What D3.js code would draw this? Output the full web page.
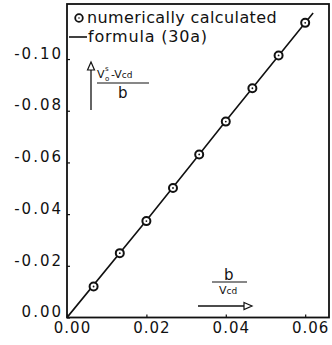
<!DOCTYPE html>
<html>
<head>
<meta charset="utf-8">
<script src="https://cdn.jsdelivr.net/npm/d3@7"></script>
<style>
  body { margin: 0; background: #fff; }
  text { font-family: "DejaVu Sans", sans-serif; fill: #111; }
</style>
</head>
<body>
<div id="chart"></div>
<script>
// numerically calculated points
const xCalc = [0.0067, 0.0133, 0.0200, 0.0267, 0.0333, 0.0400, 0.0467, 0.0533, 0.0600];
const yCalc = [0.0120, 0.0249, 0.0373, 0.0501, 0.0631, 0.0758, 0.0887, 0.1014, 0.1140];
// formula (30a) curve
const xFormula = [0, 0.02, 0.04, 0.062];
const yFormula = [0, 0.0375, 0.0760, 0.1178];
const xTicks = [0, 0.02, 0.04, 0.06];
const yTicks = [0, 0.02, 0.04, 0.06, 0.08, 0.10];
const xTickLabels = ["0.00", "0.02", "0.04", "0.06"];
const yTickLabels = ["0.00", "-0.02", "-0.04", "-0.06", "-0.08", "-0.10"];

let margin = { top: 4, left: 67, right: 3, bottom: 27.5 },
  width = 332,
  height = 345,
  innerW = width - margin.left - margin.right,
  innerH = height - margin.top - margin.bottom;

const svg = d3.select("#chart")
  .append("svg")
    .attr("width", width)
    .attr("height", height);

const g = svg.append("g")
  .attr("transform", "translate(" + margin.left + "," + margin.top + ")");

const x = d3.scaleLinear().domain([0, 0.066]).range([0, innerW]);
const y = d3.scaleLinear().domain([0, 0.1213]).range([innerH, 0]);

// frame
g.append("rect")
  .attr("width", innerW).attr("height", innerH)
  .attr("fill", "none").attr("stroke", "#111").attr("stroke-width", 1.8);

// X axis (inner ticks)
const xAxis = g.append("g")
  .attr("transform", "translate(0," + innerH + ")")
  .call(d3.axisBottom(x).tickValues(xTicks).tickSize(-3)
    .tickFormat((d, i) => xTickLabels[i]));
xAxis.select(".domain").remove();
xAxis.selectAll("line").attr("stroke", "#111").attr("stroke-width", 1.2);
xAxis.selectAll("text")
  .attr("dy", 0).attr("y", 15).attr("dx", 5)
  .style("font-size", "15px").style("letter-spacing", "1px");

// Y axis (inner ticks)
const yAxis = g.append("g")
  .call(d3.axisLeft(y).tickValues(yTicks).tickSize(-3)
    .tickFormat((d, i) => yTickLabels[i]));
yAxis.select(".domain").remove();
yAxis.selectAll("line").attr("stroke", "#111").attr("stroke-width", 1.2);
yAxis.selectAll("text")
  .attr("x", -4).attr("dy", "-0.05em")
  .style("font-size", "15px").style("letter-spacing", "2px");

// formula line
const formula = xFormula.map((v, i) => [v, yFormula[i]]);
g.append("path")
  .datum(formula)
  .attr("fill", "none").attr("stroke", "#111").attr("stroke-width", 1.6)
  .attr("d", d3.line().x(d => x(d[0])).y(d => y(d[1])).curve(d3.curveMonotoneX));

// calculated markers
const pts = xCalc.map((v, i) => [v, yCalc[i]]);
const mk = g.selectAll(".pt").data(pts).enter().append("g")
  .attr("transform", d => "translate(" + x(d[0]) + "," + y(d[1]) + ")");
mk.append("circle").attr("r", 4).attr("fill", "#fff").attr("stroke", "#111").attr("stroke-width", 2);
mk.append("circle").attr("r", 0.9).attr("fill", "#111");

// legend
const leg = svg.append("g");
leg.append("circle").attr("cx", 79).attr("cy", 18).attr("r", 3.8)
  .attr("fill", "#fff").attr("stroke", "#111").attr("stroke-width", 1.8);
leg.append("circle").attr("cx", 79).attr("cy", 18).attr("r", 0.8).attr("fill", "#111");
leg.append("text").attr("x", 87).attr("y", 23).style("font-size", "16px").style("letter-spacing", "0.4px").text("numerically calculated");
leg.append("line").attr("x1", 69).attr("x2", 87).attr("y1", 37).attr("y2", 37)
  .attr("stroke", "#111").attr("stroke-width", 1.6);
leg.append("text").attr("x", 88).attr("y", 42).style("font-size", "16px").style("letter-spacing", "0.8px").text("formula (30a)");

// y label: arrow + fraction
const yl = svg.append("g");
yl.append("line").attr("x1", 91).attr("x2", 91).attr("y1", 66).attr("y2", 110)
  .attr("stroke", "#111").attr("stroke-width", 1.3);
yl.append("path").attr("d", "M87.5,70 L91,62 L94.5,70 Z")
  .attr("fill", "#fff").attr("stroke", "#111").attr("stroke-width", 1.2);
yl.append("text").attr("x", 97).attr("y", 78).style("font-size", "11px").text("V");
yl.append("text").attr("x", 105).attr("y", 71).style("font-size", "7px").text("s");
yl.append("text").attr("x", 105).attr("y", 81).style("font-size", "7px").text("o");
const num = yl.append("text").attr("x", 111).attr("y", 78).style("font-size", "11px");
num.append("tspan").text("-V");
num.append("tspan").style("font-size", "9px").text("cd");
yl.append("line").attr("x1", 97).attr("x2", 149).attr("y1", 83).attr("y2", 83)
  .attr("stroke", "#111").attr("stroke-width", 1.1);
yl.append("text").attr("x", 118).attr("y", 98).style("font-size", "15px").text("b");

// x label: fraction + arrow
const xl = svg.append("g");
xl.append("text").attr("x", 224).attr("y", 280).style("font-size", "15px").text("b");
xl.append("line").attr("x1", 212).attr("x2", 247).attr("y1", 282).attr("y2", 282)
  .attr("stroke", "#111").attr("stroke-width", 1.1);
const vcd = xl.append("text").attr("x", 219).attr("y", 294).style("font-size", "11px");
vcd.append("tspan").text("V");
vcd.append("tspan").style("font-size", "9px").text("cd");
xl.append("line").attr("x1", 198).attr("x2", 246).attr("y1", 306).attr("y2", 306)
  .attr("stroke", "#111").attr("stroke-width", 1.3);
xl.append("path").attr("d", "M244,302.5 L252,306 L244,309.5 Z")
  .attr("fill", "#fff").attr("stroke", "#111").attr("stroke-width", 1.2);
</script>
</body>
</html>
